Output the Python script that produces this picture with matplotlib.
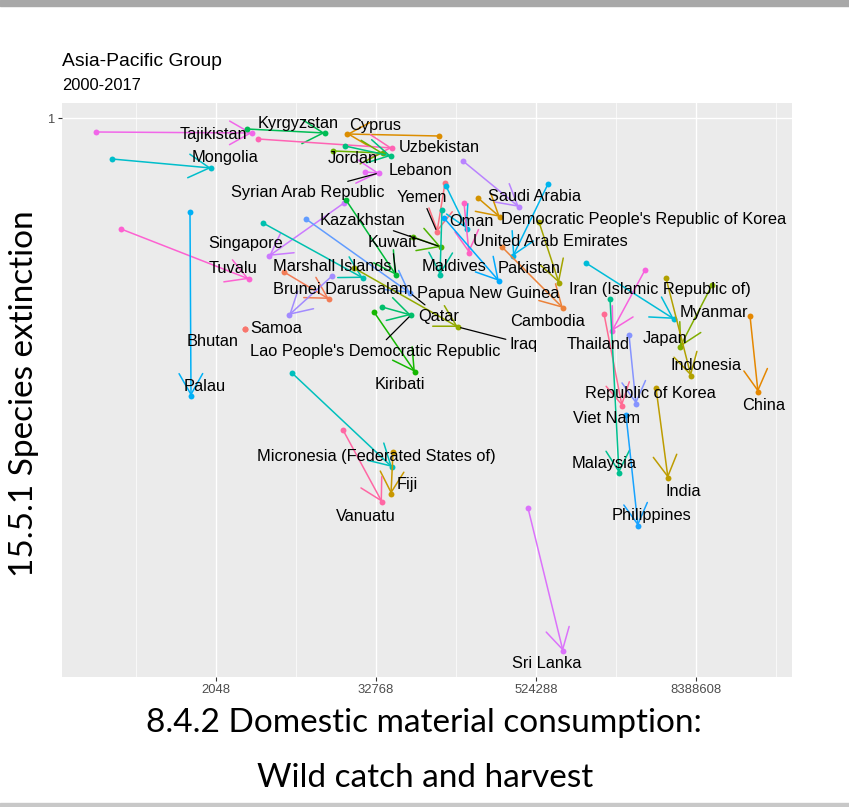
import numpy as np
import matplotlib
matplotlib.use("Agg")
import matplotlib.pyplot as plt
from matplotlib.patches import Rectangle
from matplotlib.ticker import NullFormatter

# ===============================
# DATA
# ===============================
countries = [
    "Tajikistan", "Kyrgyzstan", "Cyprus", "Uzbekistan", "Mongolia", "Jordan",
    "Lebanon", "Syrian Arab Republic", "Yemen", "Saudi Arabia", "Kazakhstan",
    "Oman", "Democratic People's Republic of Korea", "Singapore", "Kuwait",
    "United Arab Emirates", "Tuvalu", "Maldives", "Pakistan", "Marshall Islands",
    "Brunei Darussalam", "Papua New Guinea", "Iran (Islamic Republic of)",
    "Myanmar", "Qatar", "Cambodia", "Samoa", "Bhutan", "Japan", "Thailand",
    "Iraq", "Lao People's Democratic Republic", "Indonesia", "China", "Kiribati",
    "Palau", "Republic of Korea", "Viet Nam", "Micronesia (Federated States of)",
    "Malaysia", "Fiji", "India", "Vanuatu", "Philippines", "Sri Lanka",
]

# 8.4.2 domestic material consumption, wild catch and harvest
dmc_2000 = [
    256, 3500, 97600, 4240, 338, 15600,
    19150, 27080, 108300, 148000, 62230,
    110200, 191900, 18820, 19480,
    150600, 395, 102800, 645400, 4625,
    6656, 106500, 552200,
    1247000, 9742, 290900, 15290, 3385, 11070000, 3467000,
    22380, 36370, 4988000, 21390000, 31650,
    1305, 2628000, 1704000, 7643,
    1891000, 43990, 4194000, 18500, 2494000, 456400,
]
dmc_2017 = [
    3820, 13500, 19800, 43300, 1880, 37000,
    42500, 34500, 94300, 390600, 101100,
    158600, 281000, 5130, 46340,
    164200, 3628, 99350, 351900, 26170,
    14516, 276100, 781200,
    5730000, 59070, 837200, 7257, 3385, 6358000, 1957000,
    135700, 60100, 7692000, 24560000, 64420,
    1328, 2966000, 2328000, 43250,
    2208000, 42500, 5163000, 36370, 3070000, 837200,
]

# 15.5.1 species extinction (Red List index)
rli_2000 = [
    0.9888, 0.9912, 0.9856, 0.9832, 0.9672, 0.9736,
    0.9776, 0.9568, 0.9480, 0.9656, 0.9048,
    0.9456, 0.9360, 0.9320, 0.9344,
    0.9320, 0.9112, 0.9264, 0.9472, 0.9160,
    0.8768, 0.9200, 0.9168,
    0.8840, 0.9192, 0.8968, 0.8736, 0.8312, 0.8664, 0.8784,
    0.8800, 0.8488, 0.8720, 0.8416, 0.8448,
    0.9248, 0.8264, 0.8432, 0.7960,
    0.8552, 0.7328, 0.7840, 0.7504, 0.7624, 0.6880,
]
rli_2017 = [
    0.9880, 0.9880, 0.9872, 0.9760, 0.9600, 0.9720,
    0.9696, 0.9560, 0.9088, 0.9288, 0.8968,
    0.9112, 0.9208, 0.8896, 0.8744,
    0.8920, 0.8712, 0.8744, 0.8896, 0.8720,
    0.8552, 0.8696, 0.8680,
    0.8392, 0.8600, 0.8480, 0.8424, 0.8312, 0.8168, 0.8296,
    0.8328, 0.8424, 0.7936, 0.7808, 0.7968,
    0.7776, 0.7712, 0.7696, 0.7208,
    0.7160, 0.6992, 0.7120, 0.6928, 0.6736, 0.5736,
]

x_breaks = [2048, 32768, 524288, 8388608]
x_minor = [512, 8192, 131072, 2097152, 33554432]

# label placement (pixels from the 2017 point, y pointing down) - mimics ggrepel
label_offset = {
    "Tajikistan": (-39, 1), "Kyrgyzstan": (-27, -10), "Cyprus": (28, -9),
    "Uzbekistan": (47, -1), "Mongolia": (14, -11), "Jordan": (-30, 5),
    "Lebanon": (30, 14), "Syrian Arab Republic": (-71, 19), "Yemen": (-15, -35),
    "Saudi Arabia": (15, -11), "Kazakhstan": (-79, -27), "Oman": (4, -8),
    "Democratic People's Republic of Korea": (144, 2), "Singapore": (-23, -13),
    "Kuwait": (-4, -33), "United Arab Emirates": (81, -12), "Tuvalu": (-16, -11),
    "Maldives": (14, -9), "Pakistan": (16, 12), "Marshall Islands": (-31, -12),
    "Brunei Darussalam": (14, -10), "Papua New Guinea": (-11, 12),
    "Iran (Islamic Republic of)": (101, 6), "Myanmar": (40, -7), "Qatar": (29, 23),
    "Cambodia": (-16, 13), "Samoa": (-13, 13), "Bhutan": (-32, 12),
    "Japan": (-15, -9), "Thailand": (-14, 13), "Iraq": (66, 17),
    "Lao People's Democratic Republic": (-36, 36), "Indonesia": (15, -11),
    "China": (6, 14), "Kiribati": (-15, 12), "Palau": (14, -10),
    "Republic of Korea": (14, -11), "Viet Nam": (-15, 12),
    "Micronesia (Federated States of)": (-16, -10), "Malaysia": (-15, -10),
    "Fiji": (16, -10), "India": (15, 13), "Vanuatu": (-16, 14),
    "Philippines": (14, -11), "Sri Lanka": (-16, 12),
}
with_segment = {"Syrian Arab Republic", "Yemen", "Kazakhstan", "Kuwait",
                "Qatar", "Iraq", "Lao People's Democratic Republic"}


# ===============================
# ggplot2 default hue palette
# ===============================
def hcl_to_hex(h, c=100.0, l=65.0):
    hr = np.deg2rad(h)
    u, v = c * np.cos(hr), c * np.sin(hr)
    xn, yn, zn = 95.047, 100.0, 108.883
    un = 4 * xn / (xn + 15 * yn + 3 * zn)
    vn = 9 * yn / (xn + 15 * yn + 3 * zn)
    Y = yn * ((l + 16) / 116) ** 3
    up = u / (13 * l) + un
    vp = v / (13 * l) + vn
    X = Y * 9 * up / (4 * vp)
    Z = Y * (12 - 3 * up - 20 * vp) / (4 * vp)
    m = np.array([[3.240479, -1.537150, -0.498535],
                  [-0.969256, 1.875992, 0.041556],
                  [0.055648, -0.204043, 1.057311]])
    rgb = m @ np.array([X, Y, Z]) / 100
    rgb = np.where(rgb > 0.0031308, 1.055 * np.abs(rgb) ** (1 / 2.4) - 0.055, 12.92 * rgb)
    return tuple(np.clip(rgb, 0, 1))


levels = sorted(countries)
hues = np.linspace(15, 375, len(levels) + 1)[:-1]
palette = {name: hcl_to_hex(h) for name, h in zip(levels, hues)}

# ===============================
# PLOT
# ===============================
plt.rcParams["font.family"] = ["Liberation Sans", "DejaVu Sans"]

W, H = 849, 807
fig = plt.figure(figsize=(W / 100, H / 100), dpi=100)
ax = fig.add_axes([62 / W, 1 - 677 / H, (792 - 62) / W, (677 - 103) / H])
ax.set_facecolor("#EBEBEB")
for s in ax.spines.values():
    s.set_visible(False)

ax.set_xscale("log", base=2)
ax.set_xlim(2 ** 7.15, 2 ** 25.4)
ax.set_ylim(0.5528, 1.012)

ax.set_xticks(x_breaks)
ax.set_xticklabels([str(b) for b in x_breaks])
ax.set_xticks(x_minor, minor=True)
ax.xaxis.set_minor_formatter(NullFormatter())
ax.set_yticks([1])
ax.set_yticklabels(["1"])
ax.tick_params(which="major", length=2.8, width=0.8, color="#333333",
               labelsize=9.4, labelcolor="#4D4D4D", pad=2.5)
ax.tick_params(which="minor", length=0)
ax.grid(which="major", color="white", lw=1.0)
ax.grid(which="minor", axis="x", color="white", lw=0.5)
ax.set_axisbelow(True)

for i, name in enumerate(countries):
    col = palette[name]
    x0, y0 = dmc_2000[i], rli_2000[i]
    x1, y1 = dmc_2017[i], rli_2017[i]
    if (x0, y0) != (x1, y1):
        ax.annotate("", xy=(x1, y1), xytext=(x0, y0),
                    arrowprops=dict(arrowstyle="->,head_length=1.5,head_width=0.85",
                                    color=col, lw=1.1, shrinkA=0, shrinkB=0))
    ax.scatter([x0, x1], [y0, y1], s=18, color=col, zorder=3, linewidths=0)

for i, name in enumerate(countries):
    dx, dy = label_offset[name]
    kw = {}
    if name in with_segment:
        kw["arrowprops"] = dict(arrowstyle="-", color="black", lw=0.9,
                                shrinkA=1, shrinkB=2)
    ax.annotate(name, xy=(dmc_2017[i], rli_2017[i]), xytext=(dx, -dy),
                textcoords="offset pixels", ha="center", va="center",
                fontsize=11.8, color="black", zorder=4, **kw)

# titles
fig.text(62 / W, 1 - 61 / H, "Asia-Pacific Group", ha="left", va="center", fontsize=13.9)
fig.text(62 / W, 1 - 86 / H, "2000-2017", ha="left", va="center", fontsize=11.9)

# slide axis captions
fig.text(24 / W, 1 - 394 / H, "15.5.1 Species extinction", rotation=90,
         ha="center", va="center", fontsize=24, family=["Lato", "DejaVu Sans"])
fig.text(424 / W, 1 - 723 / H, "8.4.2 Domestic material consumption:",
         ha="center", va="center", fontsize=24, family=["Lato", "DejaVu Sans"])
fig.text(425 / W, 1 - 778 / H, "Wild catch and harvest",
         ha="center", va="center", fontsize=24, family=["Lato", "DejaVu Sans"])

# slide border bands
fig.patches.append(Rectangle((0, 1 - 6 / H), 1, 6 / H, transform=fig.transFigure,
                             color="#A8A8A8", zorder=0))
fig.patches.append(Rectangle((0, 0), 1, 4 / H, transform=fig.transFigure,
                             color="#C8C8C8", zorder=0))

fig.savefig("out.png", dpi=100)
